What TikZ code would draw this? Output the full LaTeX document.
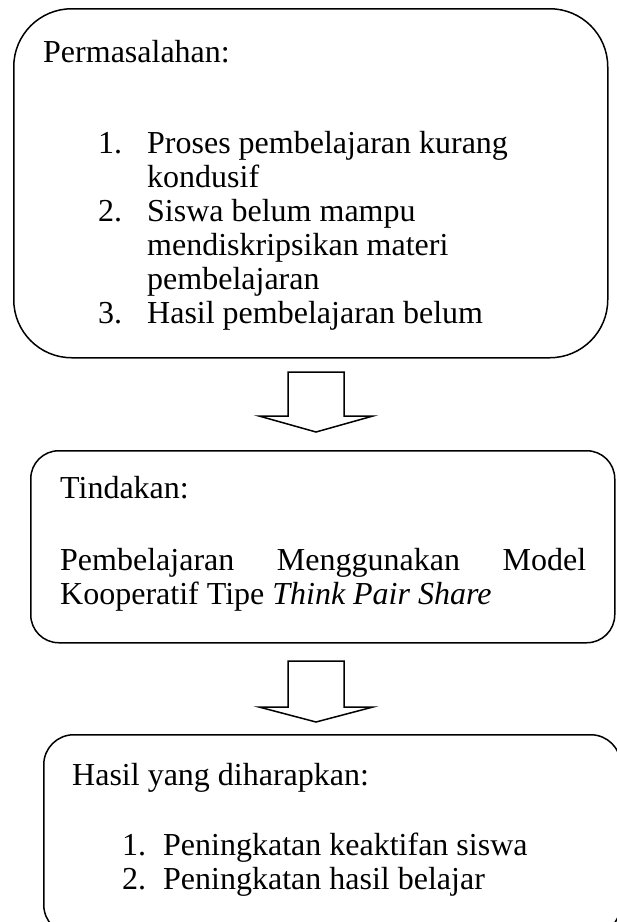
\documentclass[tikz,border=0pt]{standalone}
\usepackage{fontspec}
\setmainfont{Liberation Serif}
\usetikzlibrary{positioning}
\tikzset{
	kotak/.style={draw, line width=1.5pt, inner sep=0pt, anchor=north west},
	teks/.style={inner sep=0pt, anchor=base west}
}
\begin{document}
\begin{tikzpicture}[x=1pt,y=-1pt, line join = round, line cap = round, font=\fontsize{32}{34}\selectfont]
	\useasboundingbox (0,0) rectangle (617,922);
	\clip (0,0) rectangle (617,922);
	% kotak
	\node[kotak, rounded corners=58pt, minimum width=594pt, minimum height=349pt] (masalah) at (13,8) {};
	\node[kotak, rounded corners=28pt, minimum width=584pt, minimum height=192pt] (tindakan) at (30,450) {};
	\node[kotak, rounded corners=30pt, minimum width=577pt, minimum height=200pt] (harapan) at (43,734) {};
	% teks
	\node[teks] (judulmasalah) at (43,62) {Permasalahan:};
	\node[teks] (isimasalah) at (98,153) {\begin{tabular}[t]{@{}p{49pt}@{}l@{}}
		1. & Proses pembelajaran kurang\\
		   & kondusif\\
		2. & Siswa belum mampu\\
		   & mendiskripsikan materi\\
		   & pembelajaran\\
		3. & Hasil pembelajaran belum
	\end{tabular}};
	\node[teks] (judultindakan) at (60,498) {Tindakan:};
	\node[teks] (isitindakan) at (60,570) {\begin{minipage}[t]{526pt}
		Pembelajaran Menggunakan Model\linebreak Kooperatif Tipe \textit{Think Pair Share}
	\end{minipage}};
	\node[teks] (judulharapan) at (72,785) {Hasil yang diharapkan:};
	\node[teks] (isiharapan) at (122,855) {\begin{tabular}[t]{@{}p{41pt}@{}l@{}}
		1. & Peningkatan keaktifan siswa\\
		2. & Peningkatan hasil belajar
	\end{tabular}};
	% panah blok
	\draw[line width=1.5pt, line join=miter] (288,372) -- (288,416) -- (259,416) -- (316,432) -- (373,416) -- (344,416) -- (344,372) -- cycle;
	\draw[line width=1.5pt, line join=miter] (288,661) -- (288,707) -- (259,707) -- (316,722) -- (373,707) -- (344,707) -- (344,661) -- cycle;
\end{tikzpicture}
\end{document}
